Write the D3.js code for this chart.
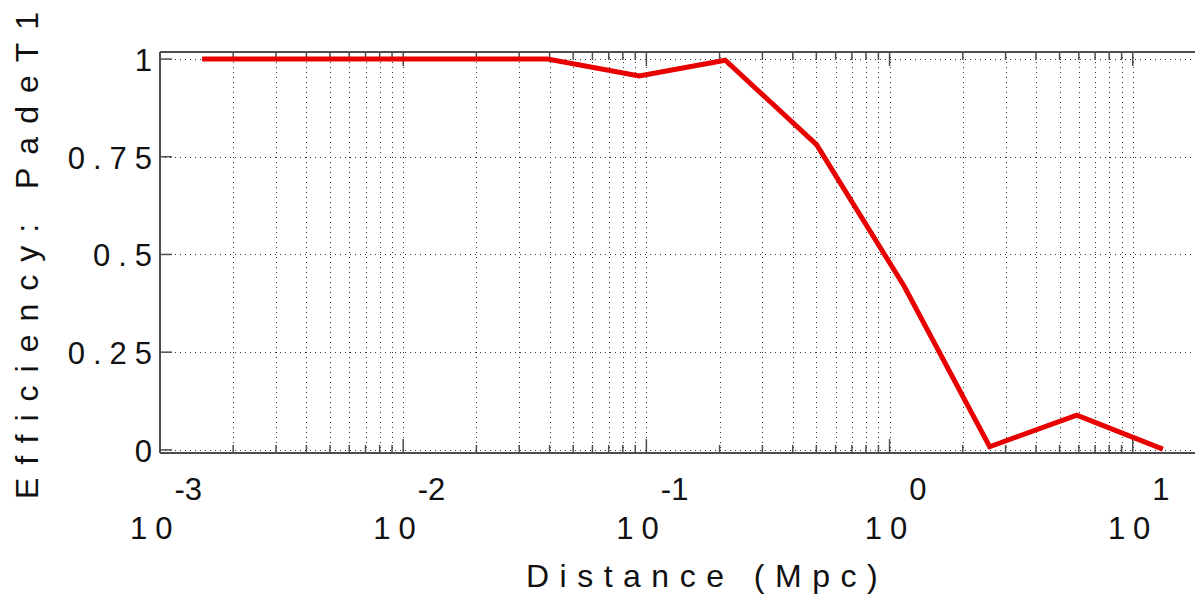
<!DOCTYPE html>
<html>
<head>
<meta charset="utf-8">
<script src="https://cdn.jsdelivr.net/npm/d3@7"></script>
<style>
  html, body { margin: 0; padding: 0; background: #fff; }
  svg { display: block; }
  text { font-family: "Liberation Sans", Arial, Helvetica, sans-serif; fill: #111; }
</style>
</head>
<body>
<svg id="chart" width="1195" height="595"></svg>
<script>
// ---- data ----
const distance   = [0.00149, 0.0392, 0.0935, 0.211, 0.501, 1.15, 2.58, 5.89, 13.3];
const efficiency = [1.0, 1.0, 0.957, 0.997, 0.781, 0.418, 0.008, 0.089, 0.002];
const yTickValues = [0, 0.25, 0.5, 0.75, 1];
const yTickLabels = ["0", "0.25", "0.5", "0.75", "1"];
const xDecades = [1e-3, 1e-2, 1e-1, 1e0, 1e1];
const xDecadeExponents = ["-3", "-2", "-1", "0", "1"];
const xLimits = [1e-3, Math.pow(10, 1.256)];
const yLimits = [-0.008, 1.018];
const xLabel = "Distance (Mpc)";
const yLabel = "Efficiency: PadeT1";

(function () {
// ---- layout ----
const pL = 160, pR = 1195, pT = 52, pB = 453;

const svg = d3.select("#chart");
const x = d3.scaleLog().domain(xLimits).range([pL, pR]);
const y = d3.scaleLinear().domain(yLimits).range([pB, pT]);

const xTicksAll = x.ticks().filter(v => x(v) >= pL - 0.5 && x(v) <= pR);
const isDecade = v => Math.abs(Math.log10(v) - Math.round(Math.log10(v))) < 1e-9;

// grid
const grid = svg.append("g").attr("stroke", "#333").attr("stroke-width", 1)
  .attr("stroke-dasharray", "1,4").attr("fill", "none");
grid.selectAll("line.v").data(xTicksAll).join("line")
  .attr("x1", d => Math.round(x(d)) + 0.5).attr("x2", d => Math.round(x(d)) + 0.5)
  .attr("y1", pT).attr("y2", pB);
grid.selectAll("line.h").data(yTickValues).join("line")
  .attr("x1", pL).attr("x2", pR)
  .attr("y1", d => Math.round(y(d)) + 0.5).attr("y2", d => Math.round(y(d)) + 0.5);

// axes frame + ticks
const axisColor = "#4d4d4d";
const frame = svg.append("g").attr("stroke", axisColor).attr("fill", "none");
frame.append("line").attr("x1", pL).attr("x2", pR).attr("y1", pT).attr("y2", pT).attr("stroke-width", 2);
frame.append("line").attr("x1", pL).attr("x2", pR).attr("y1", pB).attr("y2", pB).attr("stroke-width", 2);
frame.append("line").attr("x1", pL).attr("x2", pL).attr("y1", pT).attr("y2", pB).attr("stroke-width", 2);

const tickLen = d => isDecade(d) ? 14 : 8;
frame.selectAll("line.tt").data(xTicksAll).join("line")
  .attr("stroke-width", 1.5)
  .attr("x1", d => x(d)).attr("x2", d => x(d))
  .attr("y1", pT).attr("y2", d => pT + tickLen(d));
frame.selectAll("line.tb").data(xTicksAll).join("line")
  .attr("stroke-width", 1.5)
  .attr("x1", d => x(d)).attr("x2", d => x(d))
  .attr("y1", pB).attr("y2", d => pB - tickLen(d));
frame.selectAll("line.yl").data(yTickValues).join("line")
  .attr("stroke-width", 1.5)
  .attr("x1", pL).attr("x2", pL + 12)
  .attr("y1", d => y(d)).attr("y2", d => y(d));

// y tick labels
const ls = 8;
svg.append("g").selectAll("text").data(yTickValues).join("text")
  .attr("x", 152 + ls).attr("y", d => y(d) + 12)
  .attr("text-anchor", "end")
  .style("font-size", "31px").style("letter-spacing", ls + "px")
  .text((d, i) => yTickLabels[i]);

// x tick labels: 10 with superscript exponent
const xl = svg.append("g").selectAll("text").data(xDecades).join("text")
  .attr("text-anchor", "middle")
  .attr("x", d => x(d) + 6)
  .attr("y", 539)
  .style("font-size", "31px").style("letter-spacing", ls + "px");
xl.append("tspan").text("10");
xl.append("tspan").attr("dy", -39).attr("dx", -6).style("letter-spacing", "0px").text((d, i) => xDecadeExponents[i]);

// data line
const line = d3.line().x(d => x(d[0])).y(d => y(d[1]));
svg.append("path")
  .datum(distance.map((d, i) => [d, efficiency[i]]))
  .attr("d", line)
  .attr("fill", "none")
  .attr("stroke", "#e80000")
  .attr("stroke-width", 5)
  .attr("stroke-linejoin", "miter");

// axis labels
svg.append("text")
  .attr("x", 707).attr("y", 587)
  .attr("text-anchor", "middle")
  .style("font-size", "32px").style("letter-spacing", "10.5px")
  .text(xLabel);
svg.append("text")
  .attr("transform", `translate(38, 249) rotate(-90)`)
  .attr("text-anchor", "middle")
  .style("font-size", "32px").style("letter-spacing", "13px")
  .text(yLabel);
})();
</script>
</body>
</html>
